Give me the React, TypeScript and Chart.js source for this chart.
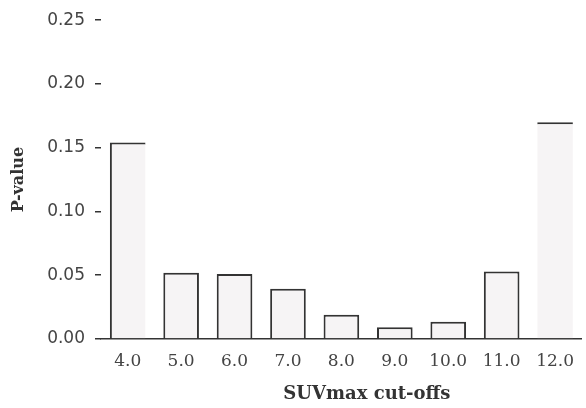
import React, { useEffect, useRef } from "react";
import { Chart, registerables } from "chart.js";

Chart.register(...registerables);

const categories = ["4.0", "5.0", "6.0", "7.0", "8.0", "9.0", "10.0", "11.0", "12.0"];
const pValues = [0.154, 0.052, 0.051, 0.0395, 0.019, 0.0093, 0.0135, 0.053, 0.17];
const yTicks = [0, 0.05, 0.1, 0.15, 0.2, 0.25];
const xTitle = "SUVmax cut-offs";
const yTitle = "P-value";

const INK = "#333333";

const xTitlePlugin = {
  id: "xTitlePlugin",
  afterDraw(chart: any) {
    const { ctx, chartArea } = chart;
    ctx.save();
    ctx.font = "bold 18px 'DejaVu Serif'";
    ctx.fillStyle = INK;
    ctx.textAlign = "center";
    ctx.textBaseline = "middle";
    const x = chartArea.left + (chartArea.right - chartArea.left) * 0.553;
    ctx.fillText(xTitle, x, chartArea.bottom + 55);
    ctx.restore();
  },
};

export default function App() {
  const ref = useRef<HTMLCanvasElement>(null);

  useEffect(() => {
    document.body.style.margin = "0";
    const last = pValues.length - 1;
    const chart = new Chart(ref.current!, {
      type: "bar",
      data: {
        labels: categories,
        datasets: [
          {
            data: pValues,
            backgroundColor: "#f6f4f5",
            borderColor: INK,
            borderSkipped: false,
            borderWidth: (c: any) => {
              const i = c.dataIndex;
              if (i === 0) return { top: 2, left: 2, right: 0, bottom: 0 };
              if (i === last) return { top: 2, left: 0, right: 0, bottom: 0 };
              return { top: 2, left: 2, right: 2, bottom: 0 };
            },
            barPercentage: 0.667,
            categoryPercentage: 1,
          },
        ],
      },
      options: {
        animation: false,
        responsive: true,
        maintainAspectRatio: false,
        layout: { padding: { left: 5, right: 0, top: 19, bottom: 0 } },
        plugins: { legend: { display: false }, tooltip: { enabled: false } },
        scales: {
          x: {
            grid: { display: false, drawTicks: false },
            border: { display: true, color: INK, width: 1.5 },
            ticks: {
              color: "#444",
              font: { family: "'DejaVu Serif'", size: 17 },
              padding: 12,
              maxRotation: 0,
            },
            afterFit: (s: any) => {
              s.height = 69;
            },
          },
          y: {
            min: 0,
            max: 0.25,
            afterBuildTicks: (s: any) => {
              s.ticks = yTicks.map((v) => ({ value: v }));
            },
            grid: {
              display: true,
              drawOnChartArea: false,
              drawTicks: true,
              tickLength: 6,
              color: INK,
              lineWidth: 1.5,
            },
            border: { display: false },
            ticks: {
              color: "#444",
              font: { family: "'DejaVu Sans'", size: 17 },
              padding: 10,
              callback: (v: any) => Number(v).toFixed(2),
            },
            title: {
              display: true,
              text: yTitle,
              color: INK,
              font: { family: "'DejaVu Serif'", size: 16, weight: "bold" },
              padding: 4,
            },
            afterFit: (s: any) => {
              s.width = 96;
            },
          },
        },
      },
      plugins: [xTitlePlugin],
    });
    return () => chart.destroy();
  }, []);

  return (
    <div style={{ position: "fixed", left: 0, top: 0, width: 586, height: 408 }}>
      <canvas ref={ref} />
    </div>
  );
}
